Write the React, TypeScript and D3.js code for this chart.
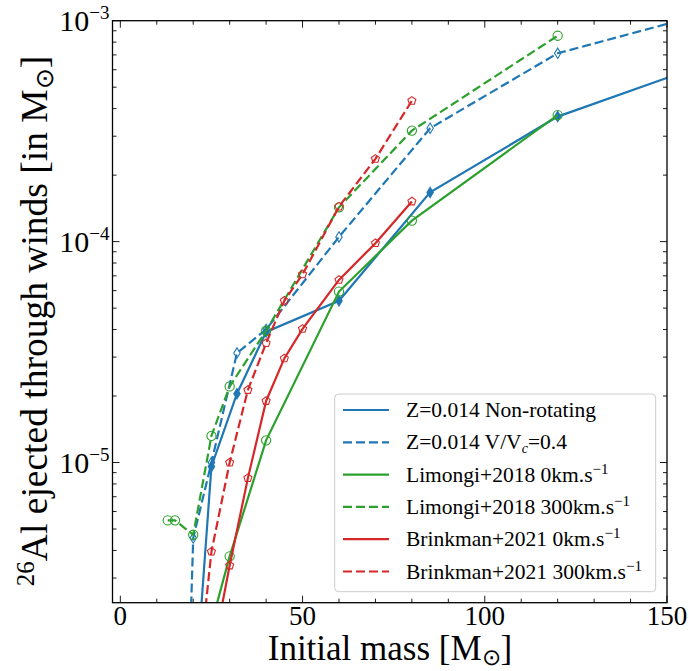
import React from "react";
import * as d3 from "d3";

// ---------- data ----------
const nonRotMass = [20, 25, 32, 40, 60, 85, 120, 200];
const nonRotAl = [7e-7, 9.6e-6, 2.05e-5, 3.9e-5, 5.4e-5, 1.67e-4, 3.68e-4, 1.08e-3];

const rotMass = [15, 20, 25, 32, 40, 60, 85, 120, 200];
const rotAl = [1e-8, 4.55e-6, 1.0e-5, 3.13e-5, 4.0e-5, 1.05e-4, 3.26e-4, 7.12e-4, 1.61e-3];

const lim0Mass = [25, 30, 40, 60, 80, 120];
const lim0Al = [1.86e-6, 3.76e-6, 1.26e-5, 5.94e-5, 1.245e-4, 3.74e-4];

const lim300Mass = [13, 15, 20, 25, 30, 40, 60, 80, 120];
const lim300Al = [5.47e-6, 5.47e-6, 4.71e-6, 1.32e-5, 2.21e-5, 3.95e-5, 1.43e-4, 3.18e-4, 8.55e-4];

const bri0Mass = [25, 30, 35, 40, 45, 50, 60, 70, 80];
const bri0Al = [1.27e-6, 3.42e-6, 8.5e-6, 1.9e-5, 2.96e-5, 4.03e-5, 6.71e-5, 9.84e-5, 1.52e-4];

const bri300Mass = [20, 25, 30, 35, 40, 45, 50, 60, 70, 80];
const bri300Al = [6.6e-7, 3.95e-6, 1.0e-5, 2.13e-5, 3.47e-5, 5.4e-5, 7.11e-5, 1.44e-4, 2.37e-4, 4.34e-4];

const xMajorTicks = [0, 50, 100, 150];
const yMajorExponents = [-3, -4, -5];

// ---------- layout ----------
const W = 689;
const H = 671;
const left = 112.5;
const right = 667;
const top = 20.7;
const bottom = 602.7;

const BLUE = "#1f77b4";
const GREEN = "#2ca02c";
const RED = "#d62728";
const FONT = "Liberation Serif";
const DASH = "9,4";

type Series = {
  mass: number[];
  al: number[];
  color: string;
  dashed: boolean;
  marker: "dfill" | "dopen" | "circle" | "pent";
};

const series: Series[] = [
  { mass: nonRotMass, al: nonRotAl, color: BLUE, dashed: false, marker: "dfill" },
  { mass: rotMass, al: rotAl, color: BLUE, dashed: true, marker: "dopen" },
  { mass: lim0Mass, al: lim0Al, color: GREEN, dashed: false, marker: "circle" },
  { mass: lim300Mass, al: lim300Al, color: GREEN, dashed: true, marker: "circle" },
  { mass: bri0Mass, al: bri0Al, color: RED, dashed: false, marker: "pent" },
  { mass: bri300Mass, al: bri300Al, color: RED, dashed: true, marker: "pent" },
];

const legendItems = [
  { color: BLUE, dashed: false, label: ["Z=0.014 Non-rotating"] },
  { color: BLUE, dashed: true, label: ["Z=0.014 V/V", "c", "=0.4"] },
  { color: GREEN, dashed: false, label: ["Limongi+2018 0km.s", "−1"] },
  { color: GREEN, dashed: true, label: ["Limongi+2018 300km.s", "−1"] },
  { color: RED, dashed: false, label: ["Brinkman+2021 0km.s", "−1"] },
  { color: RED, dashed: true, label: ["Brinkman+2021 300km.s", "−1"] },
];

function markerPath(kind: string, x: number, y: number): string {
  if (kind === "dfill" || kind === "dopen") {
    const hw = 3.2, hh = 5.2;
    return `M${x},${y - hh}L${x + hw},${y}L${x},${y + hh}L${x - hw},${y}Z`;
  }
  if (kind === "pent") {
    const r = 4.2;
    const pts = d3.range(5).map((i) => {
      const a = -Math.PI / 2 + (i * 2 * Math.PI) / 5;
      return [x + r * Math.cos(a), y + r * Math.sin(a)];
    });
    return "M" + pts.map((p) => p.join(",")).join("L") + "Z";
  }
  const r = 4.6;
  return `M${x + r},${y}A${r},${r} 0 1,1 ${x - r},${y}A${r},${r} 0 1,1 ${x + r},${y}Z`;
}

export default function App() {
  const x = d3.scaleLinear().domain([-2.15, 150]).range([left, right]);
  const y = d3.scaleLog().domain([2.32e-6, 1e-3]).range([bottom, top]);

  const line = d3
    .line<[number, number]>()
    .x((d) => x(d[0]))
    .y((d) => y(d[1]));

  const xMinor = d3.range(10, 150, 10).filter((v) => v % 50 !== 0);
  const yMinor: number[] = [];
  for (let e = -6; e <= -4; e++) {
    for (let k = 2; k <= 9; k++) {
      const v = k * Math.pow(10, e);
      if (v >= 2.32e-6 && v <= 1e-3) yMinor.push(v);
    }
  }

  const legendRowY = (i: number) => 410 + i * 32.3;
  const serif = { fontFamily: FONT };

  return (
    <svg width={W} height={H} style={{ display: "block", position: "absolute", left: 0, top: 0 }}>
      <rect x={0} y={0} width={W} height={H} fill="#fff" />
      <defs>
        <clipPath id="plotclip">
          <rect x={left} y={top} width={right - left} height={bottom - top} />
        </clipPath>
      </defs>

      <g clipPath="url(#plotclip)">
        {series.map((s, i) => {
          const pts = s.mass.map((m, j) => [m, s.al[j]] as [number, number]);
          return (
            <g key={i}>
              <path
                d={line(pts) || ""}
                fill="none"
                stroke={s.color}
                strokeWidth={2.2}
                strokeDasharray={s.dashed ? DASH : undefined}
              />
              {pts.map((p, j) => (
                <path
                  key={j}
                  d={markerPath(s.marker, x(p[0]), y(p[1]))}
                  fill={s.marker === "dfill" ? s.color : "none"}
                  stroke={s.color}
                  strokeWidth={1.1}
                />
              ))}
            </g>
          );
        })}
      </g>

      {/* ticks */}
      <g stroke="#000" strokeWidth={0.9}>
        {xMajorTicks.map((t) => (
          <g key={"xm" + t}>
            <line x1={x(t)} x2={x(t)} y1={bottom} y2={bottom - 7} />
            <line x1={x(t)} x2={x(t)} y1={top} y2={top + 7} />
          </g>
        ))}
        {xMinor.map((t) => (
          <g key={"xn" + t}>
            <line x1={x(t)} x2={x(t)} y1={bottom} y2={bottom - 4} />
            <line x1={x(t)} x2={x(t)} y1={top} y2={top + 4} />
          </g>
        ))}
        {yMajorExponents.map((e) => (
          <g key={"ym" + e}>
            <line x1={left} x2={left + 7} y1={y(Math.pow(10, e))} y2={y(Math.pow(10, e))} />
            <line x1={right} x2={right - 7} y1={y(Math.pow(10, e))} y2={y(Math.pow(10, e))} />
          </g>
        ))}
        {yMinor.map((v, i) => (
          <g key={"yn" + i}>
            <line x1={left} x2={left + 4} y1={y(v)} y2={y(v)} />
            <line x1={right} x2={right - 4} y1={y(v)} y2={y(v)} />
          </g>
        ))}
      </g>

      {/* frame */}
      <rect x={left} y={top} width={right - left} height={bottom - top} fill="none" stroke="#000" strokeWidth={1.3} />

      {/* tick labels */}
      {xMajorTicks.map((t) => (
        <text key={"xl" + t} x={x(t)} y={bottom + 22.5} textAnchor="middle" fontSize={27} style={serif}>
          {t}
        </text>
      ))}
      {yMajorExponents.map((e) => (
        <text key={"yl" + e} x={left - 3} y={y(Math.pow(10, e)) + 10} textAnchor="end" fontSize={30} style={serif}>
          10
          <tspan fontSize={19} dy={-12}>
            {"−" + Math.abs(e)}
          </tspan>
        </text>
      ))}

      {/* axis labels */}
      <text x={390} y={660} textAnchor="middle" fontSize={35} style={serif}>
        Initial mass [M
        <tspan fontSize={23} dy={5}>⊙</tspan>
        <tspan dy={-5}>]</tspan>
      </text>
      <text transform={`translate(47,321) rotate(-90)`} textAnchor="middle" fontSize={37.5} style={serif}>
        <tspan fontSize={25} dy={-13}>26</tspan>
        <tspan dy={13}>Al ejected through winds [in M</tspan>
        <tspan fontSize={25} dy={6}>⊙</tspan>
        <tspan dy={-6}>]</tspan>
      </text>

      {/* legend */}
      <rect x={334.7} y={394} width={321} height={197.7} rx={4} fill="#fff" fillOpacity={0.8} stroke="#ccc" strokeWidth={1} />
      {legendItems.map((it, i) => {
        const cy = legendRowY(i);
        return (
          <g key={"lg" + i}>
            <line
              x1={343}
              x2={389}
              y1={cy}
              y2={cy}
              stroke={it.color}
              strokeWidth={2.2}
              strokeDasharray={it.dashed ? DASH : undefined}
            />
            <text x={406} y={cy + 7} fontSize={21.5} style={serif}>
              {it.label.length === 1 ? (
                it.label[0]
              ) : it.label.length === 3 ? (
                <>
                  {it.label[0]}
                  <tspan fontSize={14} dy={4} fontStyle="italic">{it.label[1]}</tspan>
                  <tspan dy={-4}>{it.label[2]}</tspan>
                </>
              ) : (
                <>
                  {it.label[0]}
                  <tspan fontSize={15} dy={-8}>{it.label[1]}</tspan>
                </>
              )}
            </text>
          </g>
        );
      })}
    </svg>
  );
}
